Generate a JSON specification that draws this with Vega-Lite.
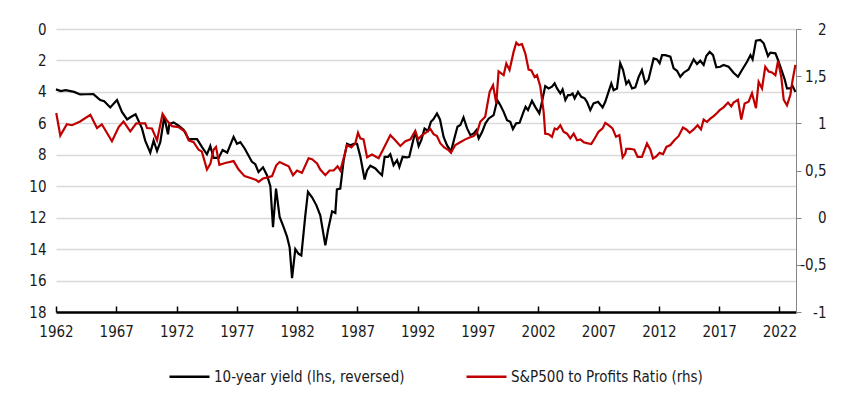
{
  "$schema": "https://vega.github.io/schema/vega-lite/v6.json",
  "width": 740,
  "height": 283,
  "autosize": {"type": "none"},
  "padding": {"left": 56, "top": 29, "right": 64, "bottom": 90},
  "background": "white",
  "config": {
    "view": {"stroke": null},
    "font": "'DejaVu Sans Condensed', Roboto, sans-serif",
    "axis": {"labelFont": "'DejaVu Sans Condensed', Roboto, sans-serif", "labelFontSize": 15, "labelColor": "#1a1a1a"},
    "legend": {"labelFont": "'DejaVu Sans Condensed', Roboto, sans-serif", "labelFontSize": 15, "labelColor": "#1a1a1a", "labelLimit": 400}
  },
  "datasets": {
    "yield": [
      {"year":1962.0,"yield":3.84},{"year":1962.4,"yield":3.95},{"year":1962.8,"yield":3.89},{"year":1963.5,"yield":4.0},{"year":1964.0,"yield":4.16},{"year":1964.5,"yield":4.15},{"year":1965.1,"yield":4.14},{"year":1965.67,"yield":4.52},{"year":1966.0,"yield":4.6},{"year":1966.5,"yield":4.99},{"year":1967.06,"yield":4.52},{"year":1967.47,"yield":5.27},{"year":1967.9,"yield":5.75},{"year":1968.2,"yield":5.6},{"year":1968.6,"yield":5.43},{"year":1969.13,"yield":6.32},{"year":1969.4,"yield":7.1},{"year":1969.82,"yield":7.86},{"year":1970.1,"yield":7.1},{"year":1970.38,"yield":7.76},{"year":1970.65,"yield":7.2},{"year":1970.98,"yield":5.58},{"year":1971.29,"yield":6.7},{"year":1971.4,"yield":6.05},{"year":1971.75,"yield":5.94},{"year":1972.17,"yield":6.15},{"year":1972.58,"yield":6.4},{"year":1973.0,"yield":7.0},{"year":1973.7,"yield":7.0},{"year":1974.1,"yield":7.5},{"year":1974.52,"yield":7.97},{"year":1974.8,"yield":7.44},{"year":1975.07,"yield":8.2},{"year":1975.49,"yield":8.2},{"year":1975.82,"yield":7.7},{"year":1976.2,"yield":7.86},{"year":1976.73,"yield":6.86},{"year":1977.01,"yield":7.3},{"year":1977.29,"yield":7.2},{"year":1977.65,"yield":7.6},{"year":1978.25,"yield":8.45},{"year":1978.53,"yield":8.6},{"year":1978.8,"yield":9.1},{"year":1979.17,"yield":8.8},{"year":1979.5,"yield":9.3},{"year":1979.78,"yield":10.0},{"year":1980.0,"yield":12.6},{"year":1980.25,"yield":10.15},{"year":1980.55,"yield":11.95},{"year":1980.88,"yield":12.6},{"year":1981.16,"yield":13.2},{"year":1981.38,"yield":13.9},{"year":1981.58,"yield":15.84},{"year":1981.85,"yield":14.0},{"year":1982.12,"yield":14.3},{"year":1982.35,"yield":14.4},{"year":1982.68,"yield":11.85},{"year":1982.9,"yield":10.36},{"year":1983.24,"yield":10.7},{"year":1983.59,"yield":11.2},{"year":1983.92,"yield":11.85},{"year":1984.34,"yield":13.76},{"year":1984.56,"yield":12.8},{"year":1984.9,"yield":11.6},{"year":1985.17,"yield":11.7},{"year":1985.3,"yield":10.2},{"year":1985.58,"yield":10.15},{"year":1985.86,"yield":8.35},{"year":1986.14,"yield":7.3},{"year":1986.41,"yield":7.4},{"year":1986.7,"yield":7.3},{"year":1986.97,"yield":7.3},{"year":1987.24,"yield":8.1},{"year":1987.6,"yield":9.57},{"year":1987.8,"yield":9.0},{"year":1988.07,"yield":8.7},{"year":1988.49,"yield":8.87},{"year":1988.76,"yield":9.1},{"year":1989.04,"yield":9.3},{"year":1989.26,"yield":8.13},{"year":1989.54,"yield":8.13},{"year":1989.73,"yield":7.96},{"year":1990.0,"yield":8.66},{"year":1990.29,"yield":8.34},{"year":1990.48,"yield":8.77},{"year":1990.75,"yield":8.13},{"year":1991.1,"yield":8.17},{"year":1991.3,"yield":8.13},{"year":1991.8,"yield":6.54},{"year":1992.08,"yield":7.45},{"year":1992.3,"yield":7.07},{"year":1992.57,"yield":6.33},{"year":1992.86,"yield":6.48},{"year":1993.1,"yield":5.9},{"year":1993.3,"yield":5.75},{"year":1993.6,"yield":5.37},{"year":1993.85,"yield":5.75},{"year":1994.15,"yield":6.86},{"year":1994.43,"yield":7.39},{"year":1994.76,"yield":7.8},{"year":1995.04,"yield":6.96},{"year":1995.3,"yield":6.22},{"year":1995.54,"yield":6.11},{"year":1995.8,"yield":5.62},{"year":1996.1,"yield":6.32},{"year":1996.37,"yield":6.75},{"year":1996.65,"yield":6.64},{"year":1996.87,"yield":6.43},{"year":1997.06,"yield":6.96},{"year":1997.35,"yield":6.54},{"year":1997.62,"yield":6.0},{"year":1997.9,"yield":5.69},{"year":1998.3,"yield":5.48},{"year":1998.6,"yield":4.52},{"year":1998.85,"yield":4.84},{"year":1999.13,"yield":5.27},{"year":1999.41,"yield":5.8},{"year":1999.68,"yield":5.9},{"year":1999.9,"yield":6.37},{"year":2000.17,"yield":6.0},{"year":2000.45,"yield":5.97},{"year":2000.78,"yield":5.27},{"year":2000.95,"yield":4.95},{"year":2001.15,"yield":5.16},{"year":2001.48,"yield":4.57},{"year":2001.75,"yield":4.95},{"year":2002.09,"yield":5.37},{"year":2002.31,"yield":4.63},{"year":2002.58,"yield":3.63},{"year":2002.86,"yield":3.78},{"year":2003.14,"yield":3.67},{"year":2003.36,"yield":3.46},{"year":2003.56,"yield":3.78},{"year":2003.83,"yield":4.1},{"year":2004.02,"yield":3.84},{"year":2004.25,"yield":4.52},{"year":2004.47,"yield":4.2},{"year":2004.66,"yield":4.2},{"year":2004.85,"yield":4.1},{"year":2005.02,"yield":4.41},{"year":2005.3,"yield":4.0},{"year":2005.57,"yield":4.31},{"year":2005.85,"yield":4.41},{"year":2006.04,"yield":4.63},{"year":2006.32,"yield":5.16},{"year":2006.59,"yield":4.73},{"year":2006.96,"yield":4.63},{"year":2007.34,"yield":4.99},{"year":2007.56,"yield":4.63},{"year":2007.83,"yield":4.0},{"year":2008.06,"yield":3.46},{"year":2008.25,"yield":3.89},{"year":2008.53,"yield":3.78},{"year":2008.8,"yield":2.18},{"year":2009.03,"yield":2.6},{"year":2009.3,"yield":3.5},{"year":2009.5,"yield":3.29},{"year":2009.78,"yield":3.78},{"year":2010.05,"yield":3.71},{"year":2010.33,"yield":3.04},{"year":2010.6,"yield":2.61},{"year":2010.88,"yield":3.46},{"year":2011.15,"yield":3.2},{"year":2011.57,"yield":1.87},{"year":2011.85,"yield":1.93},{"year":2012.07,"yield":2.18},{"year":2012.27,"yield":1.66},{"year":2012.54,"yield":1.66},{"year":2012.96,"yield":1.76},{"year":2013.23,"yield":2.5},{"year":2013.51,"yield":2.66},{"year":2013.78,"yield":3.04},{"year":2014.06,"yield":2.78},{"year":2014.47,"yield":2.57},{"year":2014.89,"yield":1.93},{"year":2015.17,"yield":2.23},{"year":2015.44,"yield":2.02},{"year":2015.72,"yield":2.29},{"year":2015.94,"yield":1.72},{"year":2016.22,"yield":1.45},{"year":2016.5,"yield":1.66},{"year":2016.77,"yield":2.44},{"year":2017.1,"yield":2.4},{"year":2017.37,"yield":2.29},{"year":2017.79,"yield":2.4},{"year":2018.2,"yield":2.78},{"year":2018.57,"yield":3.04},{"year":2018.9,"yield":2.61},{"year":2019.32,"yield":2.08},{"year":2019.6,"yield":1.66},{"year":2019.78,"yield":1.93},{"year":2020.06,"yield":0.75},{"year":2020.42,"yield":0.7},{"year":2020.7,"yield":0.91},{"year":2021.06,"yield":1.72},{"year":2021.25,"yield":1.51},{"year":2021.67,"yield":1.55},{"year":2021.89,"yield":1.97},{"year":2022.16,"yield":2.57},{"year":2022.44,"yield":3.2},{"year":2022.63,"yield":3.78},{"year":2022.91,"yield":3.78},{"year":2023.1,"yield":3.63},{"year":2023.33,"yield":4.0}
    ],
    "ratio": [
      {"year":1962.02,"ratio":1.11},{"year":1962.36,"ratio":0.87},{"year":1962.9,"ratio":0.99},{"year":1963.33,"ratio":0.98},{"year":1964.0,"ratio":1.02},{"year":1964.85,"ratio":1.09},{"year":1965.4,"ratio":0.95},{"year":1965.8,"ratio":0.99},{"year":1966.64,"ratio":0.81},{"year":1967.2,"ratio":0.96},{"year":1967.6,"ratio":1.02},{"year":1968.16,"ratio":0.915},{"year":1968.66,"ratio":1.0},{"year":1969.4,"ratio":1.0},{"year":1969.55,"ratio":0.95},{"year":1969.96,"ratio":0.945},{"year":1970.38,"ratio":0.82},{"year":1970.84,"ratio":1.1},{"year":1971.2,"ratio":1.03},{"year":1971.62,"ratio":0.97},{"year":1972.17,"ratio":0.96},{"year":1972.72,"ratio":0.91},{"year":1973.0,"ratio":0.82},{"year":1973.41,"ratio":0.8},{"year":1973.83,"ratio":0.72},{"year":1974.1,"ratio":0.7},{"year":1974.52,"ratio":0.51},{"year":1974.8,"ratio":0.57},{"year":1975.07,"ratio":0.72},{"year":1975.27,"ratio":0.75},{"year":1975.55,"ratio":0.56},{"year":1976.04,"ratio":0.58},{"year":1976.73,"ratio":0.6},{"year":1977.15,"ratio":0.51},{"year":1977.64,"ratio":0.44},{"year":1978.26,"ratio":0.415},{"year":1978.6,"ratio":0.4},{"year":1978.8,"ratio":0.38},{"year":1979.17,"ratio":0.415},{"year":1979.5,"ratio":0.425},{"year":1979.92,"ratio":0.44},{"year":1980.27,"ratio":0.555},{"year":1980.55,"ratio":0.59},{"year":1980.88,"ratio":0.57},{"year":1981.3,"ratio":0.545},{"year":1981.66,"ratio":0.45},{"year":1981.99,"ratio":0.5},{"year":1982.4,"ratio":0.475},{"year":1982.95,"ratio":0.63},{"year":1983.24,"ratio":0.62},{"year":1983.65,"ratio":0.575},{"year":1983.92,"ratio":0.51},{"year":1984.34,"ratio":0.45},{"year":1984.69,"ratio":0.5},{"year":1985.03,"ratio":0.5},{"year":1985.36,"ratio":0.545},{"year":1985.58,"ratio":0.5},{"year":1985.86,"ratio":0.63},{"year":1986.14,"ratio":0.77},{"year":1986.5,"ratio":0.745},{"year":1986.83,"ratio":0.79},{"year":1987.05,"ratio":0.9},{"year":1987.24,"ratio":0.84},{"year":1987.51,"ratio":0.83},{"year":1987.8,"ratio":0.64},{"year":1988.21,"ratio":0.67},{"year":1988.76,"ratio":0.63},{"year":1989.32,"ratio":0.77},{"year":1989.73,"ratio":0.875},{"year":1990.14,"ratio":0.82},{"year":1990.56,"ratio":0.76},{"year":1990.98,"ratio":0.81},{"year":1991.4,"ratio":0.83},{"year":1991.8,"ratio":0.92},{"year":1992.03,"ratio":0.83},{"year":1992.36,"ratio":0.875},{"year":1992.77,"ratio":0.91},{"year":1993.05,"ratio":0.94},{"year":1993.32,"ratio":0.885},{"year":1993.6,"ratio":0.865},{"year":1993.87,"ratio":0.79},{"year":1994.2,"ratio":0.745},{"year":1994.56,"ratio":0.716},{"year":1994.76,"ratio":0.69},{"year":1995.12,"ratio":0.77},{"year":1995.53,"ratio":0.8},{"year":1995.95,"ratio":0.83},{"year":1996.3,"ratio":0.85},{"year":1996.64,"ratio":0.865},{"year":1996.92,"ratio":0.9},{"year":1997.19,"ratio":1.016},{"year":1997.6,"ratio":1.07},{"year":1997.97,"ratio":1.335},{"year":1998.25,"ratio":1.405},{"year":1998.52,"ratio":1.21},{"year":1998.71,"ratio":1.55},{"year":1999.13,"ratio":1.51},{"year":1999.35,"ratio":1.635},{"year":1999.62,"ratio":1.565},{"year":1999.96,"ratio":1.76},{"year":2000.18,"ratio":1.855},{"year":2000.37,"ratio":1.83},{"year":2000.65,"ratio":1.84},{"year":2000.93,"ratio":1.74},{"year":2001.2,"ratio":1.57},{"year":2001.43,"ratio":1.56},{"year":2001.7,"ratio":1.49},{"year":2001.9,"ratio":1.51},{"year":2002.17,"ratio":1.39},{"year":2002.45,"ratio":1.12},{"year":2002.58,"ratio":0.89},{"year":2002.86,"ratio":0.885},{"year":2003.14,"ratio":0.857},{"year":2003.36,"ratio":0.946},{"year":2003.56,"ratio":0.935},{"year":2003.83,"ratio":0.98},{"year":2004.1,"ratio":0.91},{"year":2004.39,"ratio":0.89},{"year":2004.66,"ratio":0.84},{"year":2004.94,"ratio":0.89},{"year":2005.22,"ratio":0.82},{"year":2005.5,"ratio":0.83},{"year":2005.77,"ratio":0.8},{"year":2006.04,"ratio":0.79},{"year":2006.4,"ratio":0.78},{"year":2006.73,"ratio":0.85},{"year":2007.0,"ratio":0.91},{"year":2007.34,"ratio":0.946},{"year":2007.56,"ratio":1.005},{"year":2007.83,"ratio":0.98},{"year":2008.16,"ratio":0.946},{"year":2008.45,"ratio":0.857},{"year":2008.73,"ratio":0.875},{"year":2009.0,"ratio":0.64},{"year":2009.22,"ratio":0.68},{"year":2009.3,"ratio":0.73},{"year":2009.64,"ratio":0.73},{"year":2009.97,"ratio":0.72},{"year":2010.24,"ratio":0.645},{"year":2010.6,"ratio":0.645},{"year":2011.02,"ratio":0.787},{"year":2011.3,"ratio":0.72},{"year":2011.52,"ratio":0.627},{"year":2011.8,"ratio":0.65},{"year":2012.07,"ratio":0.687},{"year":2012.35,"ratio":0.673},{"year":2012.63,"ratio":0.75},{"year":2012.96,"ratio":0.77},{"year":2013.29,"ratio":0.82},{"year":2013.64,"ratio":0.864},{"year":2014.0,"ratio":0.956},{"year":2014.28,"ratio":0.935},{"year":2014.56,"ratio":0.9},{"year":2014.89,"ratio":0.935},{"year":2015.22,"ratio":0.98},{"year":2015.5,"ratio":0.935},{"year":2015.72,"ratio":1.04},{"year":2016.0,"ratio":1.016},{"year":2016.27,"ratio":1.05},{"year":2016.55,"ratio":1.076},{"year":2016.83,"ratio":1.11},{"year":2017.05,"ratio":1.14},{"year":2017.37,"ratio":1.17},{"year":2017.74,"ratio":1.22},{"year":2018.01,"ratio":1.18},{"year":2018.2,"ratio":1.22},{"year":2018.57,"ratio":1.25},{"year":2018.84,"ratio":1.04},{"year":2019.12,"ratio":1.21},{"year":2019.45,"ratio":1.23},{"year":2019.73,"ratio":1.32},{"year":2020.06,"ratio":1.16},{"year":2020.28,"ratio":1.44},{"year":2020.56,"ratio":1.37},{"year":2020.83,"ratio":1.6},{"year":2021.11,"ratio":1.55},{"year":2021.39,"ratio":1.54},{"year":2021.67,"ratio":1.51},{"year":2021.89,"ratio":1.66},{"year":2022.16,"ratio":1.49},{"year":2022.36,"ratio":1.25},{"year":2022.63,"ratio":1.19},{"year":2022.91,"ratio":1.3},{"year":2023.1,"ratio":1.46},{"year":2023.33,"ratio":1.62}
    ]
  },
  "layer": [
    {
      "data": {"name": "yield"},
      "mark": {"type": "line", "strokeWidth": 2.2, "interpolate": "linear"},
      "encoding": {
        "x": {
          "field": "year", "type": "quantitative",
          "scale": {"domain": [1962, 2023.38], "nice": false, "zero": false},
          "axis": {
            "title": null, "values": [1962,1967,1972,1977,1982,1987,1992,1997,2002,2007,2012,2017,2022],
            "format": "d", "grid": false, "domainColor": "#000000", "domainWidth": 2.5,
            "tickColor": "#000000", "tickWidth": 1.5, "tickSize": -6, "labelPadding": 18,
            "labelFlush": false, "labelOverlap": false
          }
        },
        "y": {
          "field": "yield", "type": "quantitative",
          "scale": {"domain": [0, 18], "reverse": true, "nice": false, "zero": false},
          "axis": {
            "title": null, "orient": "left", "values": [0,2,4,6,8,10,12,14,16,18],
            "domain": false, "ticks": false, "grid": true, "gridColor": "#d9d9d9", "gridWidth": 1.5,
            "labelPadding": 10
          }
        },
        "color": {
          "datum": "10-year yield (lhs, reversed)",
          "type": "nominal",
          "scale": {"domain": ["10-year yield (lhs, reversed)", "S&P500 to Profits Ratio (rhs)"], "range": ["#000000", "#c00000"]},
          "legend": {
            "title": null, "orient": "none", "direction": "horizontal",
            "legendX": 112, "legendY": 326, "symbolType": "stroke", "symbolSize": 1600,
            "symbolStrokeWidth": 2.5, "labelOffset": 3, "columnPadding": 56, "padding": 0
          }
        }
      }
    },
    {
      "data": {"name": "ratio"},
      "mark": {"type": "line", "strokeWidth": 2.2, "interpolate": "linear"},
      "encoding": {
        "x": {"field": "year", "type": "quantitative"},
        "y": {
          "field": "ratio", "type": "quantitative",
          "scale": {"domain": [-1, 2], "nice": false, "zero": false},
          "axis": {
            "title": null, "orient": "right", "values": [-1,-0.5,0,0.5,1,1.5,2],
            "labelExpr": "replace(toString(datum.value), '.', ',')",
            "grid": false, "domainColor": "#868686", "domainWidth": 1,
            "tickColor": "#868686", "tickSize": 5, "labelPadding": 25, "labelAlign": "right"
          }
        },
        "color": {"datum": "S&P500 to Profits Ratio (rhs)", "type": "nominal"}
      }
    }
  ],
  "resolve": {"scale": {"y": "independent"}}
}
